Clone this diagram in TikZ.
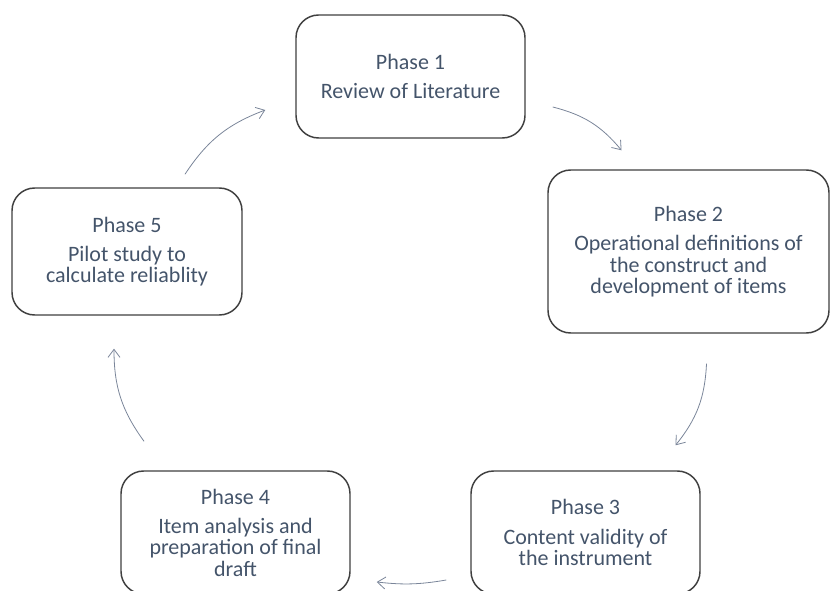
\documentclass[tikz,border=0pt]{standalone}
\usepackage{fontspec}
\setmainfont{Carlito}
\usetikzlibrary{arrows.meta,calc}
\definecolor{phasetext}{HTML}{44546A}
\definecolor{phaseline}{HTML}{3F3F3F}
\definecolor{flowline}{HTML}{7A8599}

\begin{document}
\begin{tikzpicture}[x=0.75pt, y=-0.75pt,
    every node/.style={font=\fontsize{16.5}{16}\selectfont, text=phasetext},
    phasebox/.style={draw=phaseline, line width=1.1pt, rounded corners=17pt,
      align=center, inner sep=0pt},
    flow/.style={draw=flowline, line width=0.6pt,
      -{Straight Barb[length=6pt,width=9pt]}, bend left=18}]
  \useasboundingbox (0,0) rectangle (830,591);
  % Phase 1 box at the top
  \node[phasebox, minimum width=171.75pt, minimum height=92.25pt] (p1) at (410.5,76.5)
    {Phase 1\\[6pt]Review of Literature};
  % Phase 2 box on the right
  \node[phasebox, minimum width=210.75pt, minimum height=122.25pt] (p2) at (688.5,251.5)
    {Phase 2\\[6pt]Operational definitions of\\the construct and\\development of items};
  % Phase 3 box bottom right
  \node[phasebox, minimum width=171.75pt, minimum height=92.25pt] (p3) at (585.5,532.5)
    {Phase 3\\[6pt]Content validity of\\the instrument};
  % Phase 4 box bottom left
  \node[phasebox, minimum width=171.75pt, minimum height=92.25pt] (p4) at (235.5,532.5)
    {Phase 4\\[6pt]Item analysis and\\preparation of final\\draft};
  % Phase 5 box on the left
  \node[phasebox, minimum width=172.5pt, minimum height=95.25pt] (p5) at (127,251.5)
    {Phase 5\\[6pt]Pilot study to\\calculate reliablity};
  % curved arrows round the cycle
  \draw[flow] ($(p1.east)+(27,30.5)$) to ($(p2.north)+(-67,-19)$);
  \draw[flow] ($(p2.south)+(18,30)$) to ($(p3.north)+(90,-25)$);
  \draw[flow, bend left=8] ($(p3.west)+(-24,47.5)$) to ($(p4.east)+(26,49.5)$);
  \draw[flow] ($(p4.north)+(-91.5,-29)$) to ($(p5.south)+(-13,33)$);
  \draw[flow] ($(p5.north)+(58,-13)$) to ($(p1.west)+(-30,33.5)$);
\end{tikzpicture}
\end{document}
